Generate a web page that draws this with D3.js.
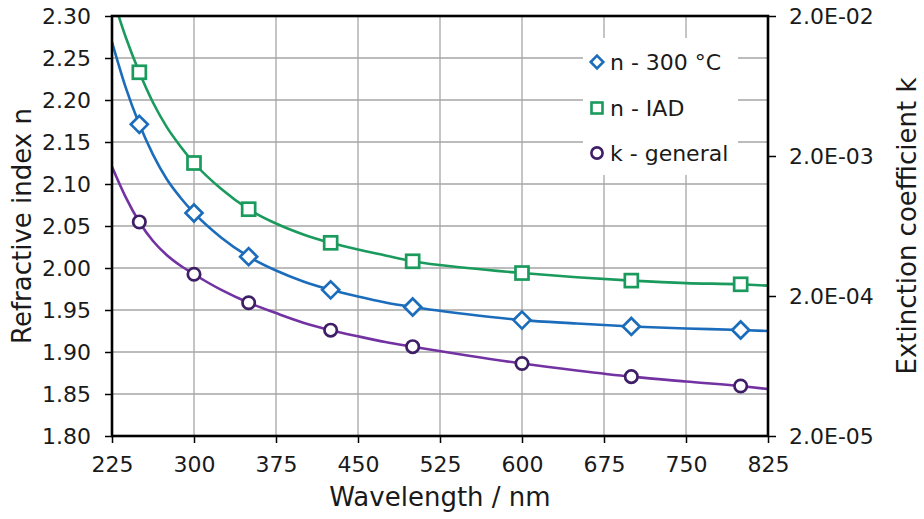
<!DOCTYPE html>
<html>
<head>
<meta charset="utf-8">
<script src="https://cdn.jsdelivr.net/npm/d3@7"></script>
<style>
  html, body { margin: 0; padding: 0; background: #fff; }
  svg { display: block; font-family: "DejaVu Sans", Verdana, sans-serif; }
</style>
</head>
<body>
<svg id="chart" width="924" height="519"></svg>
<script>
// ---- data ----
const xTicks = [225, 300, 375, 450, 525, 600, 675, 750, 825];
const yTicks = [1.80, 1.85, 1.90, 1.95, 2.00, 2.05, 2.10, 2.15, 2.20, 2.25, 2.30];
const kTicks = [2e-5, 2e-4, 2e-3, 2e-2];
const kTickLabels = ["2.0E-05", "2.0E-04", "2.0E-03", "2.0E-02"];

// measured points (markers)
const markerWl = [250, 300, 350, 425, 500, 600, 700, 800];
const n300 = [2.171, 2.0655, 2.0135, 1.974, 1.9536, 1.938, 1.9304, 1.9262];
const nIAD = [2.233, 2.125, 2.070, 2.030, 2.008, 1.994, 1.985, 1.9806];
const kGen = [6.76e-4, 2.86e-4, 1.79e-4, 1.14e-4, 8.69e-5, 6.59e-5, 5.31e-5, 4.55e-5];

// fitted curves
const curveWl = [225, 237.5, 250, 262.5, 275, 287.5, 300, 325, 350, 375, 400, 425, 450, 475, 500, 550, 600, 650, 700, 750, 800, 825];
const n300Curve = [2.269, 2.215, 2.171, 2.135, 2.106, 2.084, 2.0655, 2.036, 2.0135, 1.997, 1.984, 1.974, 1.966, 1.959, 1.9536, 1.945, 1.938, 1.934, 1.9304, 1.928, 1.9262, 1.925];
const nIADCurve = [2.325, 2.275, 2.233, 2.197, 2.168, 2.145, 2.125, 2.094, 2.070, 2.053, 2.040, 2.030, 2.022, 2.015, 2.008, 2.000, 1.994, 1.989, 1.985, 1.982, 1.9806, 1.979];
const kCurve = [1.678e-3, 1.018e-3, 6.76e-4, 4.94e-4, 3.93e-4, 3.30e-4, 2.86e-4, 2.21e-4, 1.79e-4, 1.51e-4, 1.29e-4, 1.14e-4, 1.03e-4, 9.38e-5, 8.69e-5, 7.52e-5, 6.59e-5, 5.88e-5, 5.31e-5, 4.90e-5, 4.55e-5, 4.33e-5];

const seriesNames = ["n - 300 °C", "n - IAD", "k - general"];

// ---- layout ----
const L = 112, R = 768, T = 16, B = 436;
const blue = "#1b6dbb", green = "#1a9a5c", purple = "#7232a2", purpleDark = "#3e1e66";
const grid = "#a6a6a6";

const svg = d3.select("#chart");
const x = d3.scaleLinear().domain([225, 825]).range([L, R]);
const y = d3.scaleLinear().domain([1.80, 2.30]).range([B, T]);
const yk = d3.scaleLog().domain([2e-5, 2e-2]).range([B, T]);

// grid
svg.append("g").selectAll("line").data(yTicks.slice(1, -1)).join("line")
  .attr("x1", L).attr("x2", R).attr("y1", d => y(d)).attr("y2", d => y(d))
  .attr("stroke", grid).attr("stroke-width", 1.3);
svg.append("g").selectAll("line").data(xTicks.slice(1, -1)).join("line")
  .attr("y1", T).attr("y2", B).attr("x1", d => x(d)).attr("x2", d => x(d))
  .attr("stroke", grid).attr("stroke-width", 1.3);

// clip
svg.append("defs").append("clipPath").attr("id", "clip")
  .append("rect").attr("x", L).attr("y", T).attr("width", R - L).attr("height", B - T);

const plot = svg.append("g").attr("clip-path", "url(#clip)");
const lineN = (arr) => d3.line().curve(d3.curveMonotoneX).x((d, i) => x(curveWl[i])).y((d) => y(d))(arr);
const lineK = d3.line().curve(d3.curveMonotoneX).x((d, i) => x(curveWl[i])).y(d => yk(d));

plot.append("path").attr("d", lineN(nIADCurve)).attr("fill", "none").attr("stroke", green).attr("stroke-width", 2.6);
plot.append("path").attr("d", lineN(n300Curve)).attr("fill", "none").attr("stroke", blue).attr("stroke-width", 2.6);
plot.append("path").attr("d", lineK(kCurve)).attr("fill", "none").attr("stroke", purple).attr("stroke-width", 2.6);

// markers
const sq = 13, dia = 8.5, cr = 6.2;
svg.append("g").selectAll("rect").data(nIAD).join("rect")
  .attr("x", (d, i) => x(markerWl[i]) - sq / 2).attr("y", d => y(d) - sq / 2)
  .attr("width", sq).attr("height", sq)
  .attr("fill", "#fff").attr("stroke", green).attr("stroke-width", 2.7);
const diamondPath = (cx, cy, s) => `M${cx},${cy - s}L${cx + s},${cy}L${cx},${cy + s}L${cx - s},${cy}Z`;
svg.append("g").selectAll("path").data(n300).join("path")
  .attr("d", (d, i) => diamondPath(x(markerWl[i]), y(d), dia))
  .attr("fill", "#fff").attr("stroke", blue).attr("stroke-width", 2.7);
svg.append("g").selectAll("circle").data(kGen).join("circle")
  .attr("cx", (d, i) => x(markerWl[i])).attr("cy", d => yk(d)).attr("r", cr)
  .attr("fill", "#fff").attr("stroke", purpleDark).attr("stroke-width", 2.7);

// axes
const fs = "22px";
const xAxis = svg.append("g").attr("transform", `translate(0,${B})`)
  .call(d3.axisBottom(x).tickValues(xTicks).tickFormat(d3.format("d")).tickSize(7).tickPadding(13));
const yAxis = svg.append("g").attr("transform", `translate(${L},0)`)
  .call(d3.axisLeft(y).tickValues(yTicks).tickFormat(d3.format(".2f")).tickSize(7).tickPadding(14));
const kAxis = svg.append("g").attr("transform", `translate(${R},0)`)
  .call(d3.axisRight(yk).tickValues(kTicks).tickFormat((d, i) => kTickLabels[i]).tickSize(8).tickPadding(13));
[xAxis, yAxis, kAxis].forEach(g => {
  g.select(".domain").remove();
  g.selectAll(".tick line").attr("stroke", "#000").attr("stroke-width", 1.5);
  g.selectAll(".tick text").attr("fill", "#1a1a1a").style("font-size", fs).style("font-family", '"DejaVu Sans", Verdana, sans-serif');
});

// frame
svg.append("rect").attr("x", L).attr("y", T).attr("width", R - L).attr("height", B - T)
  .attr("fill", "none").attr("stroke", "#000").attr("stroke-width", 2.6);

// titles
svg.append("text").attr("x", 440).attr("y", 506).attr("text-anchor", "middle")
  .style("font-size", "26px").attr("fill", "#1a1a1a").text("Wavelength / nm");
svg.append("text").attr("transform", "translate(31,226) rotate(-90)").attr("text-anchor", "middle")
  .style("font-size", "26px").attr("fill", "#1a1a1a").text("Refractive index n");
svg.append("text").attr("transform", "translate(916,226) rotate(-90)").attr("text-anchor", "middle")
  .style("font-size", "26px").attr("fill", "#1a1a1a").text("Extinction coefficient k");

// legend
const lg = svg.append("g");
lg.append("rect").attr("x", 583).attr("y", 38).attr("width", 155).attr("height", 137).attr("fill", "#fff");
const legY = [62, 108, 153], lx = 597;
lg.append("path").attr("d", diamondPath(lx, legY[0], 6.3)).attr("fill", "#fff").attr("stroke", blue).attr("stroke-width", 2.6);
lg.append("rect").attr("x", lx - 5.5).attr("y", legY[1] - 5.5).attr("width", 11).attr("height", 11)
  .attr("fill", "#fff").attr("stroke", green).attr("stroke-width", 2.6);
lg.append("circle").attr("cx", lx).attr("cy", legY[2]).attr("r", 5.6).attr("fill", "#fff").attr("stroke", purpleDark).attr("stroke-width", 2.6);
lg.selectAll("text").data(seriesNames).join("text")
  .attr("x", 610).attr("y", (d, i) => legY[i]).attr("dy", "0.35em")
  .style("font-size", "22px").attr("fill", "#1a1a1a").text(d => d);
</script>
</body>
</html>
